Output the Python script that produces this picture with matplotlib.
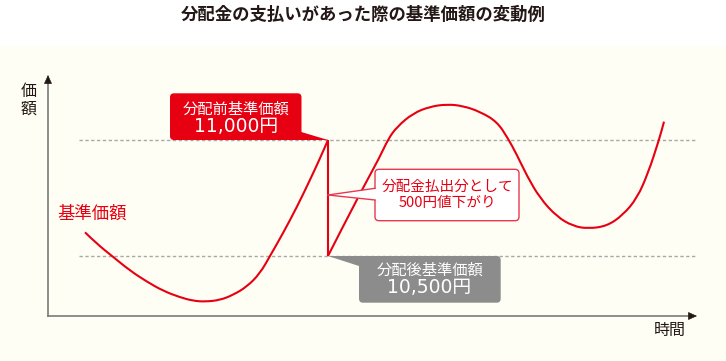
"""分配金の支払いがあった際の基準価額の変動例（模式図）。"""

import matplotlib.pyplot as plt
from matplotlib.patches import FancyBboxPatch, PathPatch, Polygon, Rectangle
from matplotlib.path import Path
from matplotlib.transforms import IdentityTransform

plt.rcParams["font.family"] = ["Noto Sans CJK JP", "DejaVu Sans"]

TITLE = "分配金の支払いがあった際の基準価額の変動例"
Y_LABEL = "価額"
X_LABEL = "時間"
SERIES_LABEL = "基準価額"

# 時間（任意単位）と基準価額（円）：分配前
before_times = [37, 49, 64, 82, 99, 115, 132, 145, 157, 172, 185, 199, 212, 222, 235, 249, 262,
                272, 280]
before_values = [10602, 10552, 10500, 10437, 10389, 10350, 10322, 10307, 10303, 10310, 10332,
                 10368, 10425, 10500, 10598, 10712, 10828, 10921, 11000]
# 分配後（280 で 500 円分下落した後）
after_times = [280, 309, 332, 340, 349, 365, 382, 399, 415, 432, 449, 460, 469, 479, 492, 509,
               525, 540, 559, 575, 589, 600, 611, 616]
after_values = [10500, 10746, 10928, 11003, 11057, 11115, 11144, 11154, 11147, 11122, 11079,
                11007, 10935, 10845, 10749, 10669, 10629, 10618, 10629, 10677, 10749, 10856,
                11000, 11079]

DROP_TIME = 280
PRICE_BEFORE = 11000
PRICE_AFTER = 10500
BEFORE_TEXT = ("分配前基準価額", "11,000円")
AFTER_TEXT = ("分配後基準価額", "10,500円")
DROP_TEXT = ("分配金払出分として", "500円値下がり")

RED = "#E60012"
GRAY_BOX = "#8C8C8C"
AXIS_COLOR = "#7A7A7A"
INK = "#231815"
CREAM = "#FFFEF4"
NUMBER_FONT = ["DejaVu Sans", "Noto Sans CJK JP"]

# 1 円あたりのピクセル数（500 円 = 116 px）
PX_PER_YEN = 116 / 500


def smooth_path(xs, ys):
    """読み取った点を制御点とする二次ベジェで滑らかにつなぐ。"""
    vertices = [(xs[0], ys[0])]
    codes = [Path.MOVETO]
    for i in range(1, len(xs) - 1):
        vertices += [(xs[i], ys[i]), ((xs[i] + xs[i + 1]) / 2, (ys[i] + ys[i + 1]) / 2)]
        codes += [Path.CURVE3, Path.CURVE3]
    vertices.append((xs[-1], ys[-1]))
    codes.append(Path.LINETO)
    return Path(vertices, codes)


def main() -> None:
    fig = plt.figure(figsize=(7.26, 3.61), dpi=100, facecolor="white")
    ax = fig.add_axes((0, 0, 1, 1))
    ax.set_axis_off()
    # x: 軸原点を 0、y: 11,000 円の線が上から 140 px の位置
    ax.set_xlim(-48, 678)
    ax.set_ylim(PRICE_BEFORE - 221 / PX_PER_YEN, PRICE_BEFORE + 140 / PX_PER_YEN)

    ax.add_patch(Rectangle((0, 0), 1, 1 - 46 / 361, transform=ax.transAxes,
                           facecolor=CREAM, edgecolor="none", zorder=0))

    fig.text(0.5, 1 - 15 / 361, TITLE, ha="center", va="center", fontsize=12.5,
             fontweight="bold", color=INK)

    # 座標軸（矢印）
    x_axis_value = PRICE_BEFORE - 176 / PX_PER_YEN
    y_top = PRICE_BEFORE + 65 / PX_PER_YEN
    ax.plot([0, 0], [x_axis_value, y_top - 6 / PX_PER_YEN], color=AXIS_COLOR, lw=1.2, zorder=2)
    ax.plot([0, 643], [x_axis_value, x_axis_value], color=AXIS_COLOR, lw=1.2, zorder=2)
    head = dict(arrowstyle="-|>,head_length=0.55,head_width=0.25", color=INK, lw=0.5,
                shrinkA=0, shrinkB=0)
    ax.annotate("", xy=(0, y_top), xytext=(0, y_top - 8 / PX_PER_YEN), arrowprops=head, zorder=3)
    ax.annotate("", xy=(649, x_axis_value), xytext=(641, x_axis_value), arrowprops=head, zorder=3)

    ax.text(-19, PRICE_BEFORE + 40 / PX_PER_YEN, "\n".join(Y_LABEL), ha="center", va="center",
            fontsize=11.5, color=INK, linespacing=1.05)
    ax.text(622, PRICE_BEFORE - 190 / PX_PER_YEN, X_LABEL, ha="center", va="center",
            fontsize=11.5, color=INK)
    ax.text(9, PRICE_BEFORE - 74 / PX_PER_YEN, SERIES_LABEL, ha="left", va="center",
            fontsize=12.5, color=RED)

    # 基準価額の水準線
    for level in (PRICE_BEFORE, PRICE_AFTER):
        ax.plot([31, 649], [level, level], color="#A8A8A8", lw=1.0,
                linestyle=(0, (2.4, 1.8)), zorder=1)

    # 基準価額の推移（分配前 → 分配で下落 → 分配後）
    for xs, ys in ((before_times, before_values), (after_times, after_values)):
        ax.add_patch(PathPatch(smooth_path(xs, ys), facecolor="none", edgecolor=RED, lw=1.5,
                               joinstyle="round", capstyle="butt", zorder=4))
    ax.plot([before_times[-1], after_times[0]], [before_values[-1], after_values[0]],
            color=RED, lw=1.5, solid_capstyle="butt", zorder=4)

    pixel = IdentityTransform()

    def box(x0, y0, w, h, face, edge="none", lw=0.0):
        ax.add_patch(FancyBboxPatch((x0, y0), w, h, boxstyle="round,pad=0,rounding_size=4",
                                    transform=pixel, facecolor=face, edgecolor=edge,
                                    linewidth=lw, zorder=5))

    def tail(points, face):
        ax.add_patch(Polygon(points, closed=True, transform=pixel, facecolor=face,
                             edgecolor="none", zorder=6))

    # 分配前の吹き出し（赤）
    xa, ya = ax.transData.transform((DROP_TIME, PRICE_BEFORE))
    box(xa - 158, ya, 131.5, 46.7, RED)
    tail([(xa - 30, ya + 9), (xa, ya), (xa - 30, ya)], RED)
    ax.text(xa - 92, ya + 30.5, BEFORE_TEXT[0], transform=pixel, ha="center", va="center",
            fontsize=11, color="white", zorder=7)
    ax.text(xa - 92, ya + 13, BEFORE_TEXT[1], transform=pixel, ha="center", va="center",
            fontsize=13.5, color="white", family=NUMBER_FONT, zorder=7)

    # 分配後の吹き出し（灰）
    xb, yb = ax.transData.transform((DROP_TIME, PRICE_AFTER))
    box(xb + 31, yb - 46.7, 141.7, 46.7, GRAY_BOX)
    tail([(xb, yb), (xb + 34, yb), (xb + 34, yb - 11)], GRAY_BOX)
    ax.text(xb + 102, yb - 14, AFTER_TEXT[0], transform=pixel, ha="center", va="center",
            fontsize=11, color="white", zorder=7)
    ax.text(xb + 101, yb - 31, AFTER_TEXT[1], transform=pixel, ha="center", va="center",
            fontsize=13.5, color="white", family=NUMBER_FONT, zorder=7)

    # 値下がり幅の吹き出し（白地・赤枠）
    xc, yc = ax.transData.transform((DROP_TIME, PRICE_BEFORE - 55 / PX_PER_YEN))
    box(xc + 47, yc - 25.7, 144, 51.4, "white", edge="#E8384F", lw=1.0)
    tail([(xc, yc), (xc + 49, yc + 6.7), (xc + 49, yc - 5)], "white")
    ax.plot([xc, xc + 47], [yc, yc + 6.7], transform=pixel, color="#E8384F", lw=1.0, zorder=6)
    ax.plot([xc, xc + 47], [yc, yc - 5], transform=pixel, color="#E8384F", lw=1.0, zorder=6)
    ax.text(xc + 119, yc + 8.3, DROP_TEXT[0], transform=pixel, ha="center", va="center",
            fontsize=10.5, color=RED, zorder=7)
    ax.text(xc + 119, yc - 7.7, DROP_TEXT[1], transform=pixel, ha="center", va="center",
            fontsize=10.5, color=RED, zorder=7)

    fig.savefig("out.png", dpi=100, facecolor=fig.get_facecolor())


if __name__ == "__main__":
    main()
